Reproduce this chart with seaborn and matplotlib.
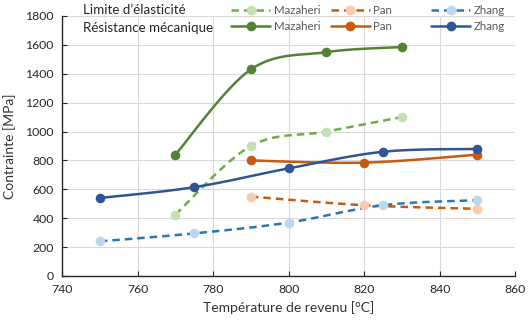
import numpy as np
import pandas as pd
import seaborn as sns
import matplotlib.pyplot as plt
from matplotlib.lines import Line2D

# data
maz_temp = [770, 790, 810, 830]
maz_yield = [425, 900, 1000, 1100]
maz_uts = [840, 1430, 1550, 1585]

pan_temp = [790, 820, 850]
pan_yield = [550, 490, 465]
pan_uts = [800, 785, 840]

zhang_temp = [750, 775, 800, 825, 850]
zhang_yield = [240, 295, 370, 490, 525]
zhang_uts = [540, 615, 745, 860, 880]


def smooth(x, y, n=30):
    # excel-like smoothed line (catmull-rom / bezier)
    x = np.asarray(x, float)
    y = np.asarray(y, float)
    px = np.concatenate([[x[0]], x, [x[-1]]])
    py = np.concatenate([[y[0]], y, [y[-1]]])
    xs, ys = [], []
    t = np.linspace(0, 1, n)
    for i in range(1, len(px) - 2):
        p0 = np.array([px[i], py[i]])
        p3 = np.array([px[i + 1], py[i + 1]])
        p1 = p0 + (np.array([px[i + 1], py[i + 1]]) - np.array([px[i - 1], py[i - 1]])) / 6
        p2 = p3 - (np.array([px[i + 2], py[i + 2]]) - np.array([px[i], py[i]])) / 6
        b = ((1 - t) ** 3)[:, None] * p0 + (3 * (1 - t) ** 2 * t)[:, None] * p1 \
            + (3 * (1 - t) * t ** 2)[:, None] * p2 + (t ** 3)[:, None] * p3
        xs.extend(b[:, 0])
        ys.extend(b[:, 1])
    return pd.DataFrame({"x": xs, "y": ys})


sns.set_theme(style="whitegrid")
plt.rcParams['font.family'] = ['Lato', 'DejaVu Sans']

fig = plt.figure(figsize=(5.31, 3.2), dpi=100)
ax = fig.add_axes([0.117, 0.1375, 0.853, 0.8125])

dash = (0, (3, 2))
series = [
    (maz_temp, maz_yield, "#70ad47", "#c5e0b4", dash),
    (pan_temp, pan_yield, "#c55a11", "#f8cbad", dash),
    (zhang_temp, zhang_yield, "#2e75b6", "#bdd7ee", dash),
    (maz_temp, maz_uts, "#548235", "#548235", "-"),
    (pan_temp, pan_uts, "#c55a11", "#c55a11", "-"),
    (zhang_temp, zhang_uts, "#2f5597", "#2f5597", "-"),
]
for xs, ys, lc, mc, ls in series:
    sm = smooth(xs, ys)
    sns.lineplot(data=sm, x="x", y="y", sort=False, color=lc, linestyle=ls,
                 linewidth=1.8, ax=ax, zorder=2)
    sns.scatterplot(x=xs, y=ys, color=mc, s=48, edgecolor=mc, linewidth=0, ax=ax, zorder=3)

ax.set_xlim(740, 860)
ax.set_ylim(0, 1800)
ax.set_xticks(range(740, 861, 20))
ax.set_yticks(range(0, 1801, 200))
ax.grid(True, color="#d9d9d9", linewidth=0.8)
for s in ["top", "right"]:
    ax.spines[s].set_visible(False)
for s in ["left", "bottom"]:
    ax.spines[s].set_visible(True)
    ax.spines[s].set_color("#262626")
    ax.spines[s].set_linewidth(1.0)
ax.tick_params(axis="both", labelsize=8.8, colors="#262626", length=3.5, width=0.8,
               direction="in", bottom=True, left=True, pad=6)
ax.set_xlabel("Température de revenu [°C]", fontsize=10, color="#333333", labelpad=4)
ax.set_ylabel("Contrainte [MPa]", fontsize=10, color="#333333", labelpad=7)

# legend: row titles + one small legend per study
fig.text(0.157, 0.968, "Limite d\u2019élasticité", fontsize=9.6, color="#262626", va="center")
fig.text(0.157, 0.913, "Résistance mécanique", fontsize=9.6, color="#262626", va="center")
studies = [("Mazaheri", "#70ad47", "#c5e0b4", "#548235", "#548235", 0.435),
           ("Pan", "#c55a11", "#f8cbad", "#c55a11", "#c55a11", 0.623),
           ("Zhang", "#2e75b6", "#bdd7ee", "#2f5597", "#2f5597", 0.812)]
for name, lc1, mc1, lc2, mc2, xpos in studies:
    handles = [Line2D([], [], color=lc1, linestyle=dash, linewidth=1.8, marker="o",
                      markersize=6, markerfacecolor=mc1, markeredgecolor=mc1),
               Line2D([], [], color=lc2, linestyle="-", linewidth=1.8, marker="o",
                      markersize=6, markerfacecolor=mc2, markeredgecolor=mc2)]
    leg = fig.legend(handles, [name, name], loc="center left", bbox_to_anchor=(xpos, 0.941),
                     frameon=False, fontsize=8.3, handlelength=3.4, handletextpad=0.3,
                     labelspacing=0.45, borderpad=0, borderaxespad=0)
    for t in leg.get_texts():
        t.set_color("#595959")

fig.savefig("out.png", dpi=100)
